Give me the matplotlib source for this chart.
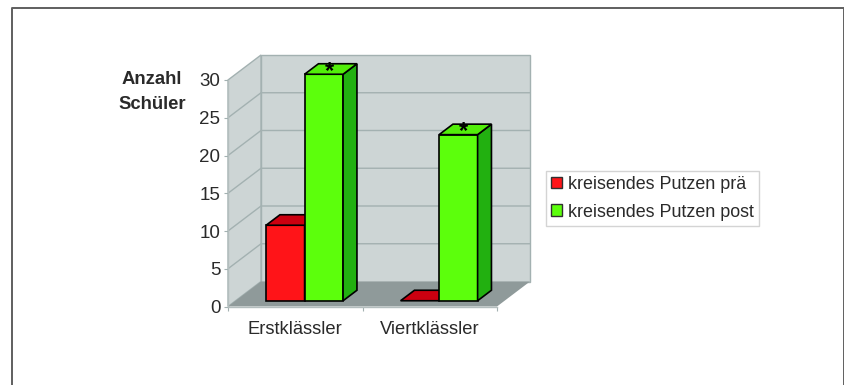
import matplotlib
matplotlib.use("Agg")
import matplotlib.pyplot as plt
from matplotlib.lines import Line2D
from matplotlib.patches import Patch, Polygon

categories = ["Erstklässler", "Viertklässler"]
series_names = ["kreisendes Putzen prä", "kreisendes Putzen post"]
values_pre = [10, 0]
values_post = [30, 22]
marked_post = [True, True]
y_ticks = [0, 5, 10, 15, 20, 25, 30]

W, H = 845, 385
plt.rcParams['font.family'] = ['Liberation Sans', 'DejaVu Sans']

WALL = "#cdd5d5"
GRID = "#a3b1b1"
FLOOR = "#8f9a9a"
TEXT = "#2a2a2a"

fig = plt.figure(figsize=(W / 100, H / 100), dpi=100)

# outer frame, open at the bottom
fig.add_artist(Line2D([12.5 / W, 12.5 / W, 844 / W, 844 / W],
                      [0, 1 - 8 / H, 1 - 8 / H, 0],
                      color="#5f5f5f", lw=1.4))

# one unit on x is a category, one unit on y is a pupil
left, right, top, bottom = 228, 530, 55, 306.5
ax = fig.add_axes([left / W, 1 - bottom / H, (right - left) / W, (bottom - top) / H])
depth_x = 33 / 134.5
depth_y = 25 / 7.55
n = len(categories)
y_max = max(y_ticks)
ax.set_xlim(0, n + depth_x)
ax.set_ylim(0, y_max + depth_y)
for s in ax.spines.values():
    s.set_visible(False)
ax.patch.set_visible(False)


def poly(points, face, edge="none", lw=0, z=1):
    ax.add_patch(Polygon(points, closed=True, facecolor=face, edgecolor=edge,
                         linewidth=lw, joinstyle="miter", zorder=z, clip_on=False))


# walls and floor
poly([(depth_x, depth_y), (n + depth_x, depth_y),
      (n + depth_x, y_max + depth_y), (depth_x, y_max + depth_y)], WALL, GRID, 1.0)
poly([(0, 0), (depth_x, depth_y), (depth_x, y_max + depth_y), (0, y_max)], WALL, GRID, 1.0)
poly([(0, 0), (n, 0), (n + depth_x, depth_y), (depth_x, depth_y)], FLOOR, z=2)

for t in y_ticks[1:-1]:
    ax.plot([0, depth_x, n + depth_x], [t, t + depth_y, t + depth_y],
            color=GRID, lw=1.0, zorder=1.5)
ax.plot([0, 0], [0, y_max], color="#b4bebe", lw=1.0, zorder=3)
ax.plot([0, n], [0, 0], color="#b4bebe", lw=1.0, zorder=3, clip_on=False)

# 3D bars
bar_w = 38.5 / 134.5
bar_start = 30.5 / 134.5
near = 0.23
far = 0.65


def bar3d(x0, value, front, top_col, side, z):
    x1 = x0 + bar_w
    bx, by = depth_x * near, depth_y * near
    dx, dy = depth_x * (far - near), depth_y * (far - near)
    xa, xb = x0 + bx, x1 + bx
    if value > 0:
        poly([(xa, by), (xb, by), (xb, by + value), (xa, by + value)],
             front, "black", 1.2, z)
        poly([(xb, by), (xb + dx, by + dy), (xb + dx, by + dy + value), (xb, by + value)],
             side, "black", 1.2, z)
    poly([(xa, by + value), (xb, by + value), (xb + dx, by + dy + value), (xa + dx, by + dy + value)],
         top_col, "black", 1.2, z)
    return (xa + xb + dx) / 2, by + value + dy / 2


for i in range(n):
    x0 = i + bar_start
    bar3d(x0, values_pre[i], "#ff1418", "#cc0010", "#a00010", 4 + i)
    cx, cy = bar3d(x0 + bar_w, values_post[i], "#5cff0c", "#52ee0a", "#22b010", 4.5 + i)
    if marked_post[i]:
        # the glyph sits high in its box, so pull it down onto the bar top
        ax.text(cx - 0.012, cy - 0.3, "*", ha="center", va="center", fontsize=17, color="black",
                fontweight="bold", zorder=6)

# axes ticks
ax.set_yticks(y_ticks)
ax.tick_params(axis="y", length=3, width=0.8, color=GRID, labelsize=13.5, labelcolor=TEXT, pad=2.5)
ax.set_xticks([i + 0.5 for i in range(n)])
ax.set_xticklabels(categories)
ax.set_xticks(range(n + 1), minor=True)
ax.tick_params(axis="x", which="major", length=0, labelsize=13.2, labelcolor=TEXT, pad=10.5)
ax.tick_params(axis="x", which="minor", length=3, width=0.8, color=GRID)

# axis caption
fig.text(152 / W, 1 - 79.5 / H, "Anzahl", ha="center", va="center",
         fontsize=13.3, fontweight="bold", color=TEXT)
fig.text(152 / W, 1 - 104.5 / H, "Schüler", ha="center", va="center",
         fontsize=13.3, fontweight="bold", color=TEXT)

handles = [Patch(facecolor="#ff1418", edgecolor="#303030", linewidth=1.0),
           Patch(facecolor="#5cff0c", edgecolor="#303030", linewidth=1.0)]
leg = fig.legend(handles, series_names, loc="upper left",
                 bbox_to_anchor=(545.5 / W, 1 - 170.5 / H), fontsize=12.85,
                 fancybox=False, framealpha=1, edgecolor="#d4d4d4",
                 handlelength=0.62, handleheight=0.62, handletextpad=0.33,
                 labelspacing=0.6, borderpad=0.3, borderaxespad=0, labelcolor=TEXT)
leg.get_frame().set_linewidth(1.0)

fig.savefig("out.png", dpi=100)
